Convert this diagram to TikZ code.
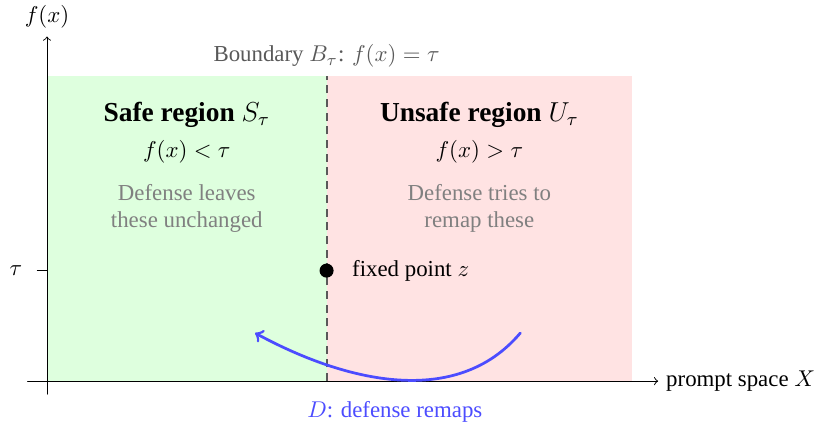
\documentclass[tikz,border=0pt]{standalone}
\usepackage[no-math]{fontspec}
\setmainfont{Liberation Serif}
\begin{document}
\begin{tikzpicture}[line cap=round,>=to,
  note/.style={text=black!50,align=center,font=\normalsize},
  title/.style={font=\large\bfseries},
  remap/.style={blue!70,very thick}]
\useasboundingbox (-0.723,-0.769) rectangle (11.997,5.862);
\fill[green!13] (0,0) rectangle (4.3,4.7); \fill[red!11] (4.3,0) rectangle (9,4.7);
\coordinate (xl) at (-0.3,0); \coordinate (xr) at (9.4,0); \coordinate (yb) at (0,-0.2); \coordinate (yt) at (0,5.3);
\coordinate (bb) at (4.3,0); \coordinate (bt) at (4.3,4.7); \coordinate (tk) at (-0.15,1.7); \coordinate (ty) at (0,1.7);
\draw[->] (xl)--(xr); \draw[->] (yb)--(yt); \draw (tk)--(ty);
\draw[line cap=butt,dash pattern=on 3.5pt off 2.5pt,line width=0.9pt,black!65] (bb)--(bt);
\node (xlab) [right] at (xr) {prompt space $X$}; \node (ylab) [above] at (yt) {$f(x)$};
\node (tau) at (-0.48,1.7) {$\tau$};
\node (blab) [above,text=black!65] at (bt) {Boundary $B_\tau$: $f(x)=\tau$};
\node (stitle) [title] at (2.15,4.09) {Safe region $S_\tau$}; \node (scond) at (2.15,3.52) {$f(x)<\tau$};
\node (snote) [note] at (2.15,2.66) {Defense leaves\\these unchanged};
\node (utitle) [title] at (6.65,4.09) {Unsafe region $U_\tau$}; \node (ucond) at (6.65,3.52) {$f(x)>\tau$};
\node (unote) [note] at (6.65,2.66) {Defense tries to\\remap these};
\fill (4.3,1.7) circle (0.108); \node (zlab) [right] at (4.57,1.7) {fixed point $z$};
\coordinate (ds) at (7.28,0.74); \coordinate (de) at (3.2,0.74);
\draw[remap,->] (ds) .. controls (6.3,-0.42) and (4.6,-0.02) .. (de);
\node (dlab) [text=blue!70] at (5.35,-0.48) {$D$: defense remaps};
\end{tikzpicture}
\end{document}
